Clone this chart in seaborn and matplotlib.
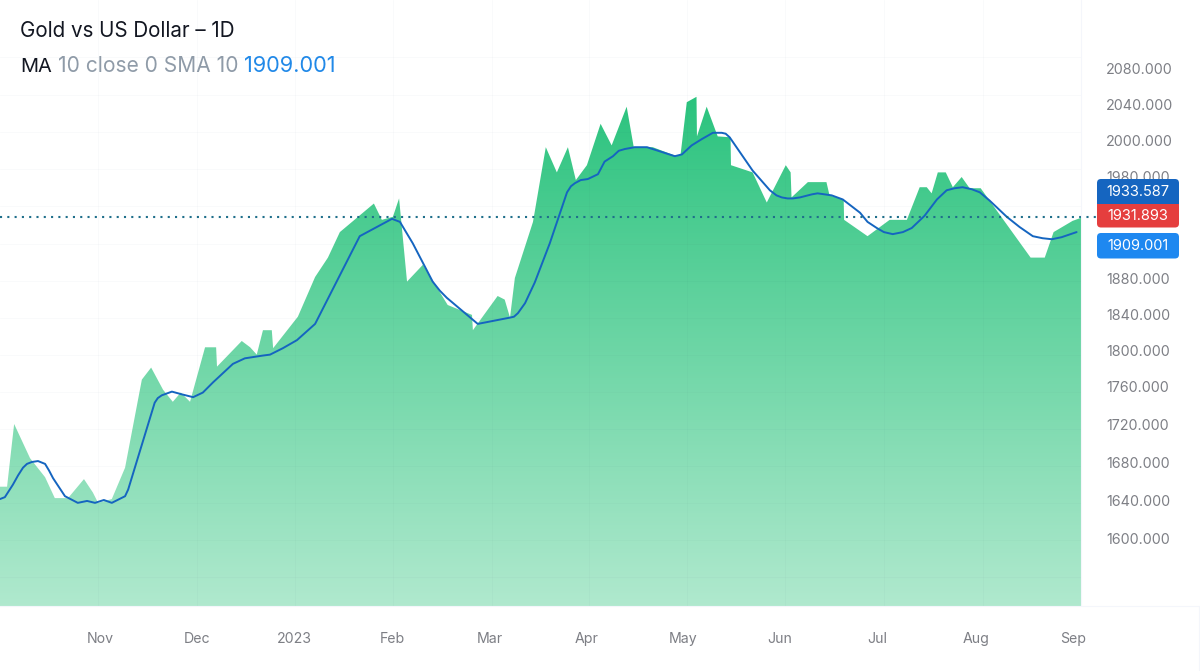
import numpy as np
import matplotlib
matplotlib.use("Agg")
import matplotlib.pyplot as plt
import seaborn as sns
from matplotlib.colors import LinearSegmentedColormap
from matplotlib.lines import Line2D
from matplotlib.patches import FancyBboxPatch, Rectangle
from matplotlib.transforms import IdentityTransform

# ---------- data, x is the session number ----------
close_x = [0, 1.6, 3.2, 6.8, 10.2, 12.4, 15.4, 19, 21, 22.2, 25.3, 28.3, 32.1, 34.2, 36.9, 39.1, 40.9, 43,
           46.4, 48.9, 49.1, 54.7, 56.6, 58.1, 59.5, 61.5, 61.8, 67.4, 71.3, 74.2, 76.9, 84.6, 86.4, 88.9,
           90.3, 92.1, 95.7, 101.3, 106.8, 107, 112.6, 114.2, 115.4, 116.5, 120.6, 123.5, 126, 128.5, 130.3,
           132.8, 135.9, 138.4, 141.8, 143.4, 147.7, 153.1, 154, 155.4, 157.6, 157.7, 159.9, 162.4, 165.3,
           165.4, 170.3, 173.5, 177.8, 178.9, 179.1, 182.8, 187, 187.7, 190.9, 191, 196.3, 201.3, 205.2,
           208.1, 209.7, 210.8, 212.2, 214, 215.6, 217.6, 219.4, 221.9, 233.2, 236.4, 238.4, 242.7, 244.6]
close_y = [1654, 1654, 1720, 1684, 1664, 1642, 1642, 1662, 1648, 1637, 1641, 1674, 1768, 1781, 1757, 1744, 1754, 1744,
           1803, 1803, 1782, 1810, 1803, 1795, 1822, 1822, 1802, 1837, 1881, 1900, 1925, 1953, 1937, 1940,
           1958, 1876, 1893, 1850, 1839, 1822, 1860, 1856, 1836, 1880, 1935, 1996, 1982, 1996, 1976,
           1986, 2018, 1997, 2037, 1996, 1996, 1991, 1992, 2042, 2048, 2004, 2037, 2004, 2003,
           1986, 1982, 1954, 1986, 1982, 1959, 1974, 1974, 1961, 1957, 1937, 1921, 1937, 1937,
           1969, 1969, 1963, 1982, 1982, 1969, 1979, 1968, 1968, 1900, 1900, 1925, 1936, 1939]

ma_x = [0, 1.1, 2.9, 4.1, 5.2, 6.1, 7.2, 8.6, 10.2, 11.1, 12, 14.7, 17.6, 19.7, 21.5, 23.5, 25.3, 28.3, 29, 35, 35.7,
        36.6, 38.9, 41.2, 43.7, 45.9, 48.2, 52.7, 55.4, 59.5, 61.1, 64, 67.2, 71.3, 81.4, 88.7, 90.5, 91.6, 93.4,
        97.9, 99.5, 101.1, 108.1, 115.4, 116.3, 117.2, 118.8, 121, 124.4, 128.3, 129.2, 130.1, 131.4, 133, 135.3,
        136.8, 138.7, 140, 141.4, 143.6, 146.4, 152.7, 154.3, 156.5, 158.8, 161.3, 163.3, 164.2, 165.1, 170.3,
        174.2, 175.7, 176.9, 178.2, 179.4, 181, 183.7, 185, 188.2, 190.7, 194.6, 196.3, 198.4, 200, 202, 204.3,
        206.3, 209.2, 212, 214.2, 216, 217.8, 219.9, 221.7, 223.9, 227.8, 230.7, 233.7, 235.9, 238, 240.2, 243.6]
ma_y = [1641, 1643, 1656, 1666, 1674, 1678, 1680, 1681, 1678, 1671, 1663, 1644, 1637, 1639, 1637, 1640, 1637, 1644, 1651, 1743, 1748,
        1751, 1755, 1752, 1749, 1754, 1765, 1785, 1791, 1794, 1795, 1802, 1811, 1829, 1921, 1938, 1935, 1927, 1914,
        1876, 1866, 1858, 1829, 1836, 1837, 1841, 1852, 1875, 1914, 1964, 1970, 1973, 1976, 1977, 1981,
        1988, 1991, 1994, 1995, 1996, 1996, 1991, 1992, 1997, 2001, 2008, 2008, 2007, 2003, 1983,
        1966, 1961, 1959, 1958, 1958, 1959, 1962, 1963, 1961, 1957, 1944, 1935, 1929, 1925, 1923, 1925,
        1929, 1941, 1957, 1966, 1968, 1969, 1967, 1964, 1956, 1940, 1930, 1921, 1919, 1918, 1920, 1925]

last_level = 1940

month_pos = [22.6, 44.6, 66.7, 88.7, 110.9, 132.8, 154.5, 176.5, 198.6, 220.8, 242.8]
month_labels = ["Nov", "Dec", "2023", "Feb", "Mar", "Apr", "May", "Jun", "Jul", "Aug", "Sep"]

price_ticks = [1600, 1640, 1680, 1720, 1760, 1800, 1840, 1880, 1980, 2000, 2040, 2080]
price_labels = ["1600.000", "1640.000", "1680.000", "1720.000", "1760.000", "1800.000", "1840.000",
                "1880.000", "1980.000", "2000.000", "2040.000", "2080.000"]

# ---------- layout ----------
W, H = 1200, 671
PLOT_R, PLOT_B = 1081, 606
scale_prices = [1528] + price_ticks + [2155]
scale_rows = [606, 538, 500, 462, 424, 387, 350, 314, 278, 176, 140, 104, 68, 0]
grid_rows = [57, 95, 132, 169, 206, 244, 281, 318, 355, 392, 429, 466, 503, 540, 577]
grid_cols = [98, 197, 295, 393, 492, 589, 687, 785, 884, 983]

GREY = "#7d7f85"

sns.set_theme(style="white")
plt.rcParams["font.family"] = ["Inter", "DejaVu Sans"]

fig = plt.figure(figsize=(W / 100, H / 100), dpi=100, facecolor="white")
ax = fig.add_axes([0, 1 - PLOT_B / H, PLOT_R / W, PLOT_B / H])


# axis spacing is not even in the source, so follow the printed ticks
def to_row(v):
    return np.interp(v, scale_prices, -np.array(scale_rows, dtype=float))


def from_row(r):
    return np.interp(r, -np.array(scale_rows, dtype=float), scale_prices)


ax.set_yscale("function", functions=(to_row, from_row))

# green gradient cut to the shape of the close series
area = ax.fill_between(close_x, close_y, 1528, facecolor="none", linewidth=0)
green = LinearSegmentedColormap.from_list("green", ["#2bc37e", "#b0e9ce"])
rows = np.clip((np.arange(PLOT_B) - 97) / (PLOT_B - 97), 0, 1).reshape(-1, 1)
img = ax.imshow(rows, cmap=green, vmin=0, vmax=1, aspect="auto", extent=(0, 1, 0, 1),
                transform=ax.transAxes, origin="upper", zorder=1)
img.set_clip_path(area.get_paths()[0], transform=ax.transData)

sns.lineplot(x=ma_x, y=ma_y, sort=False, estimator=None, color="#1565c0", linewidth=1.4, ax=ax, zorder=3,
             solid_joinstyle="round")
ax.axhline(last_level, xmax=1097 / PLOT_R, color="#1f6f8b", linewidth=1.5, linestyle=(0, (1, 2.5)),
           clip_on=False, zorder=4)

ax.set_xlim(0, 244.6)
ax.set_ylim(1528, 2155)
ax.set_xlabel("")
ax.set_ylabel("")
ax.set_xticks(month_pos, month_labels)
ax.set_yticks(price_ticks, price_labels)
ax.yaxis.tick_right()
ax.minorticks_off()
ax.tick_params(axis="x", length=0, pad=19, labelsize=10.2, labelcolor=GREY)
ax.tick_params(axis="y", length=0, pad=18, labelsize=10.3, labelcolor=GREY)
ax.grid(False)
sns.despine(ax=ax, left=True, bottom=True, right=True, top=True)


def line(x0, y0, x1, y1, **kw):
    fig.add_artist(Line2D([x0 / W, x1 / W], [1 - y0 / H, 1 - y1 / H], transform=fig.transFigure, **kw))


# faint grid, it sits a little off the labels in the source
for r in grid_rows:
    line(0, r, PLOT_R, r, color="#2a3a60", alpha=0.022, linewidth=0.8, zorder=1)
for c in grid_cols:
    line(c, 0, c, PLOT_B, color="#2a3a60", alpha=0.022, linewidth=0.8, zorder=1)
line(PLOT_R, 0, PLOT_R, PLOT_B, color="#f4f6fb", linewidth=0.8, zorder=1)
line(0, PLOT_B, W, PLOT_B, color="#f4f6fb", linewidth=0.8, zorder=1)
line(W - 1, PLOT_B, W - 1, H, color="#f4f6fb", linewidth=0.8, zorder=1)

# header
fig.text(20.5 / W, 1 - 31 / H, "Gold vs US Dollar – 1D", fontsize=14.85, color="#131722", va="center")
fig.text(20.5 / W, 1 - 66.5 / H, "MA", fontsize=14.4, color="#131722", va="center")
fig.text(58 / W, 1 - 66.5 / H, "10 close 0 SMA 10", fontsize=15.1, color="#8f9ba8", va="center")
fig.text(244 / W, 1 - 66.5 / H, "1909.001", fontsize=15.7, color="#2189e8", va="center")


# price boxes on the right
def box(top, bottom, color):
    p = FancyBboxPatch((1100, H - bottom + 3), 76, bottom - top - 6, boxstyle="round,pad=3,rounding_size=4",
                       facecolor=color, edgecolor="none", transform=IdentityTransform(), zorder=5)
    fig.add_artist(p)


box(179, 212, "#1565c0")
box(208, 227.5, "#e53e3e")
fig.add_artist(Rectangle((1097, H - 216), 82, 12, facecolor="#e53e3e", edgecolor="none",
                         transform=IdentityTransform(), zorder=5))
box(233, 258.5, "#1e88f0")
for txt, row in [("1933.587", 192), ("1931.893", 216.5), ("1909.001", 246.5)]:
    fig.text(1138 / W, 1 - row / H, txt, fontsize=10.5, color="white", ha="center", va="center", zorder=6)

fig.savefig("out.png", dpi=100)
